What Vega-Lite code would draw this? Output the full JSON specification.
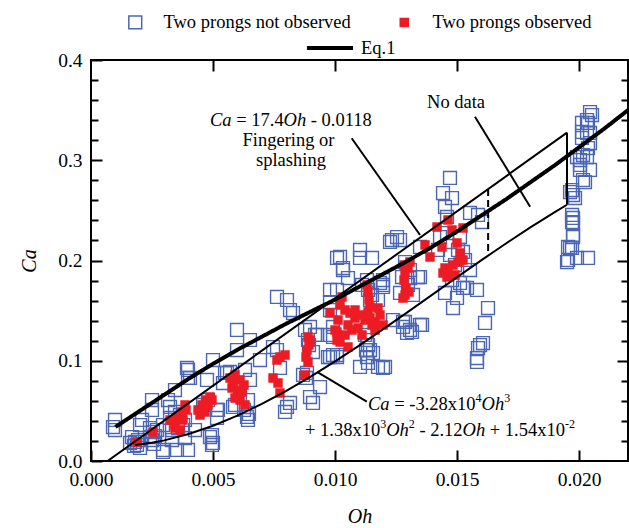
{
  "$schema": "https://vega.github.io/schema/vega-lite/v6.json",
  "autosize": {"type": "none"},
  "padding": {"left": 91, "top": 60, "right": 1, "bottom": 67},
  "width": 537,
  "height": 401,
  "background": "white",
  "config": {
    "view": {"stroke": "black", "strokeWidth": 2},
    "axis": {"domain": false, "grid": false, "tickColor": "black", "tickWidth": 2, "labelFont": "Liberation Serif", "labelFontSize": 19.5, "labelColor": "black", "labelFlush": false, "labelOverlap": false, "titleFont": "Liberation Serif", "titleFontSize": 20, "titleFontStyle": "italic", "titleFontWeight": "normal", "titleColor": "black"},
    "legend": {"labelFont": "Liberation Serif", "labelFontSize": 18.5, "labelColor": "black", "padding": 0, "labelLimit": 0}
  },
  "datasets": {
    "pts": [
      {"Oh":0.000983,"Ca":0.0409,"g":"n"},{"Oh":0.000983,"Ca":0.0309,"g":"n"},{"Oh":0.000901,"Ca":0.0339,"g":"n"},{"Oh":0.002008,"Ca":0.0359,"g":"n"},{"Oh":0.00209,"Ca":0.0409,"g":"n"},{"Oh":0.002499,"Ca":0.0608,"g":"n"},{"Oh":0.002499,"Ca":0.0509,"g":"n"},{"Oh":0.003155,"Ca":0.0608,"g":"n"},{"Oh":0.003441,"Ca":0.0708,"g":"n"},{"Oh":0.003974,"Ca":0.0908,"g":"n"},{"Oh":0.003974,"Ca":0.0828,"g":"n"},{"Oh":0.003933,"Ca":0.0928,"g":"n"},{"Oh":0.004056,"Ca":0.0828,"g":"n"},{"Oh":0.004998,"Ca":0.1007,"g":"n"},{"Oh":0.00549,"Ca":0.0878,"g":"n"},{"Oh":0.00168,"Ca":0.0239,"g":"n"},{"Oh":0.001803,"Ca":0.019,"g":"n"},{"Oh":0.001926,"Ca":0.0209,"g":"n"},{"Oh":0.001885,"Ca":0.016,"g":"n"},{"Oh":0.001762,"Ca":0.015,"g":"n"},{"Oh":0.001598,"Ca":0.018,"g":"n"},{"Oh":0.002417,"Ca":0.0329,"g":"n"},{"Oh":0.00254,"Ca":0.0289,"g":"n"},{"Oh":0.002622,"Ca":0.0249,"g":"n"},{"Oh":0.002499,"Ca":0.0209,"g":"n"},{"Oh":0.002704,"Ca":0.0309,"g":"n"},{"Oh":0.002581,"Ca":0.017,"g":"n"},{"Oh":0.002008,"Ca":0.013,"g":"n"},{"Oh":0.00295,"Ca":0.009,"g":"n"},{"Oh":0.002417,"Ca":0.0239,"g":"n"},{"Oh":0.003237,"Ca":0.0429,"g":"n"},{"Oh":0.003441,"Ca":0.0489,"g":"n"},{"Oh":0.003646,"Ca":0.0459,"g":"n"},{"Oh":0.003851,"Ca":0.0409,"g":"n"},{"Oh":0.003564,"Ca":0.0329,"g":"n"},{"Oh":0.003319,"Ca":0.0309,"g":"n"},{"Oh":0.003769,"Ca":0.0359,"g":"n"},{"Oh":0.003851,"Ca":0.0229,"g":"n"},{"Oh":0.004261,"Ca":0.0309,"g":"n"},{"Oh":0.004589,"Ca":0.0559,"g":"n"},{"Oh":0.004875,"Ca":0.0239,"g":"n"},{"Oh":0.004957,"Ca":0.016,"g":"n"},{"Oh":0.005203,"Ca":0.0509,"g":"n"},{"Oh":0.003237,"Ca":0.0539,"g":"n"},{"Oh":0.003523,"Ca":0.011,"g":"n"},{"Oh":0.00295,"Ca":0.0359,"g":"n"},{"Oh":0.003319,"Ca":0.0209,"g":"n"},{"Oh":0.00295,"Ca":0.011,"g":"n"},{"Oh":0.003974,"Ca":0.011,"g":"n"},{"Oh":0.004753,"Ca":0.0808,"g":"n"},{"Oh":0.005162,"Ca":0.0429,"g":"n"},{"Oh":0.004998,"Ca":0.018,"g":"n"},{"Oh":0.004793,"Ca":0.0608,"g":"n"},
      {"Oh":0.00803,"Ca":0.1606,"g":"n"},{"Oh":0.008276,"Ca":0.1476,"g":"n"},{"Oh":0.00762,"Ca":0.1636,"g":"n"},{"Oh":0.008153,"Ca":0.1506,"g":"n"},{"Oh":0.005982,"Ca":0.1307,"g":"n"},{"Oh":0.006514,"Ca":0.1207,"g":"n"},{"Oh":0.005982,"Ca":0.1107,"g":"n"},{"Oh":0.006924,"Ca":0.1007,"g":"n"},{"Oh":0.00762,"Ca":0.1107,"g":"n"},{"Oh":0.007743,"Ca":0.0928,"g":"n"},{"Oh":0.008972,"Ca":0.1337,"g":"n"},{"Oh":0.009259,"Ca":0.1257,"g":"n"},{"Oh":0.009095,"Ca":0.1087,"g":"n"},{"Oh":0.00885,"Ca":0.0878,"g":"n"},{"Oh":0.009382,"Ca":0.0738,"g":"n"},{"Oh":0.008972,"Ca":0.0638,"g":"n"},{"Oh":0.009095,"Ca":0.0579,"g":"n"},{"Oh":0.00803,"Ca":0.0539,"g":"n"},{"Oh":0.007948,"Ca":0.0489,"g":"n"},{"Oh":0.005572,"Ca":0.0878,"g":"n"},{"Oh":0.005408,"Ca":0.0778,"g":"n"},{"Oh":0.005162,"Ca":0.0509,"g":"n"},{"Oh":0.006391,"Ca":0.0439,"g":"n"},{"Oh":0.006473,"Ca":0.0469,"g":"n"},{"Oh":0.009792,"Ca":0.1257,"g":"n"},{"Oh":0.00971,"Ca":0.1037,"g":"n"},{"Oh":0.004957,"Ca":0.0259,"g":"n"},{"Oh":0.005695,"Ca":0.0888,"g":"n"},{"Oh":0.006309,"Ca":0.0908,"g":"n"},{"Oh":0.006514,"Ca":0.0808,"g":"n"},{"Oh":0.006105,"Ca":0.0658,"g":"n"},{"Oh":0.006432,"Ca":0.0608,"g":"n"},{"Oh":0.0059,"Ca":0.0559,"g":"n"},{"Oh":0.006268,"Ca":0.0509,"g":"n"},{"Oh":0.008768,"Ca":0.1307,"g":"n"},{"Oh":0.00889,"Ca":0.1207,"g":"n"},{"Oh":0.008686,"Ca":0.0858,"g":"n"},{"Oh":0.008809,"Ca":0.0828,"g":"n"},{"Oh":0.008931,"Ca":0.1157,"g":"n"},{"Oh":0.007457,"Ca":0.1137,"g":"n"},{"Oh":0.008153,"Ca":0.0579,"g":"n"},{"Oh":0.009915,"Ca":0.1237,"g":"n"},{"Oh":0.010079,"Ca":0.1057,"g":"n"},{"Oh":0.005818,"Ca":0.0539,"g":"n"},{"Oh":0.006432,"Ca":0.0409,"g":"n"},
      {"Oh":0.012537,"Ca":0.2234,"g":"n"},{"Oh":0.01225,"Ca":0.2185,"g":"n"},{"Oh":0.01266,"Ca":0.2204,"g":"n"},{"Oh":0.011021,"Ca":0.2105,"g":"n"},{"Oh":0.011021,"Ca":0.2025,"g":"n"},{"Oh":0.011513,"Ca":0.2025,"g":"n"},{"Oh":0.010079,"Ca":0.2025,"g":"n"},{"Oh":0.010324,"Ca":0.1925,"g":"n"},{"Oh":0.010529,"Ca":0.1825,"g":"n"},{"Oh":0.010079,"Ca":0.1706,"g":"n"},{"Oh":0.009792,"Ca":0.1586,"g":"n"},{"Oh":0.011308,"Ca":0.1805,"g":"n"},{"Oh":0.011963,"Ca":0.1756,"g":"n"},{"Oh":0.011758,"Ca":0.1606,"g":"n"},{"Oh":0.011308,"Ca":0.1207,"g":"n"},{"Oh":0.011308,"Ca":0.1037,"g":"n"},{"Oh":0.011349,"Ca":0.0978,"g":"n"},{"Oh":0.011758,"Ca":0.0938,"g":"n"},{"Oh":0.012045,"Ca":0.0938,"g":"n"},{"Oh":0.009915,"Ca":0.1057,"g":"n"},{"Oh":0.009177,"Ca":0.1257,"g":"n"},{"Oh":0.012783,"Ca":0.1337,"g":"n"},{"Oh":0.012947,"Ca":0.1277,"g":"n"},{"Oh":0.011103,"Ca":0.1756,"g":"n"},{"Oh":0.011349,"Ca":0.1706,"g":"n"},{"Oh":0.011513,"Ca":0.1656,"g":"n"},{"Oh":0.011226,"Ca":0.1257,"g":"n"},{"Oh":0.011349,"Ca":0.1157,"g":"n"},{"Oh":0.011267,"Ca":0.1107,"g":"n"},{"Oh":0.012373,"Ca":0.1406,"g":"n"},{"Oh":0.010202,"Ca":0.2035,"g":"n"},{"Oh":0.010324,"Ca":0.1905,"g":"n"},{"Oh":0.01184,"Ca":0.1776,"g":"n"},{"Oh":0.009792,"Ca":0.1706,"g":"n"},{"Oh":0.011431,"Ca":0.1606,"g":"n"},{"Oh":0.012742,"Ca":0.1835,"g":"n"},{"Oh":0.013069,"Ca":0.1825,"g":"n"},{"Oh":0.013397,"Ca":0.1835,"g":"n"},{"Oh":0.009792,"Ca":0.1506,"g":"n"},{"Oh":0.009915,"Ca":0.1337,"g":"n"},{"Oh":0.012783,"Ca":0.1387,"g":"n"},{"Oh":0.013069,"Ca":0.1307,"g":"n"},{"Oh":0.013479,"Ca":0.1357,"g":"n"},{"Oh":0.013151,"Ca":0.1287,"g":"n"},{"Oh":0.011431,"Ca":0.1107,"g":"n"},{"Oh":0.011554,"Ca":0.1077,"g":"n"},{"Oh":0.011021,"Ca":0.0938,"g":"n"},{"Oh":0.011963,"Ca":0.0928,"g":"n"},{"Oh":0.010079,"Ca":0.1037,"g":"n"},{"Oh":0.009792,"Ca":0.1037,"g":"n"},
      {"Oh":0.014421,"Ca":0.2673,"g":"n"},{"Oh":0.01479,"Ca":0.2623,"g":"n"},{"Oh":0.014503,"Ca":0.2534,"g":"n"},{"Oh":0.014585,"Ca":0.2434,"g":"n"},{"Oh":0.015528,"Ca":0.2474,"g":"n"},{"Oh":0.015855,"Ca":0.2454,"g":"n"},{"Oh":0.016019,"Ca":0.2384,"g":"n"},{"Oh":0.012332,"Ca":0.2204,"g":"n"},{"Oh":0.013479,"Ca":0.2135,"g":"n"},{"Oh":0.014299,"Ca":0.2234,"g":"n"},{"Oh":0.014585,"Ca":0.2274,"g":"n"},{"Oh":0.015118,"Ca":0.2234,"g":"n"},{"Oh":0.014217,"Ca":0.2105,"g":"n"},{"Oh":0.015036,"Ca":0.2105,"g":"n"},{"Oh":0.015241,"Ca":0.2085,"g":"n"},{"Oh":0.013479,"Ca":0.1835,"g":"n"},{"Oh":0.011963,"Ca":0.1805,"g":"n"},{"Oh":0.011963,"Ca":0.1736,"g":"n"},{"Oh":0.01266,"Ca":0.1676,"g":"n"},{"Oh":0.014503,"Ca":0.1676,"g":"n"},{"Oh":0.014995,"Ca":0.1626,"g":"n"},{"Oh":0.015241,"Ca":0.1726,"g":"n"},{"Oh":0.015814,"Ca":0.1706,"g":"n"},{"Oh":0.014831,"Ca":0.1526,"g":"n"},{"Oh":0.016265,"Ca":0.1526,"g":"n"},{"Oh":0.012865,"Ca":0.1387,"g":"n"},{"Oh":0.013561,"Ca":0.1357,"g":"n"},{"Oh":0.016142,"Ca":0.1377,"g":"n"},{"Oh":0.015937,"Ca":0.1157,"g":"n"},{"Oh":0.01606,"Ca":0.1177,"g":"n"},{"Oh":0.014708,"Ca":0.2823,"g":"n"},{"Oh":0.012865,"Ca":0.1985,"g":"n"},{"Oh":0.013069,"Ca":0.1905,"g":"n"},{"Oh":0.012987,"Ca":0.1756,"g":"n"},{"Oh":0.013192,"Ca":0.1656,"g":"n"},{"Oh":0.014708,"Ca":0.2055,"g":"n"},{"Oh":0.014913,"Ca":0.1955,"g":"n"},{"Oh":0.015323,"Ca":0.2005,"g":"n"},{"Oh":0.01479,"Ca":0.1805,"g":"n"},{"Oh":0.015118,"Ca":0.1776,"g":"n"},{"Oh":0.015528,"Ca":0.1905,"g":"n"},{"Oh":0.015855,"Ca":0.1127,"g":"n"},{"Oh":0.015814,"Ca":0.1027,"g":"n"},{"Oh":0.015814,"Ca":0.0988,"g":"n"},{"Oh":0.015405,"Ca":0.1726,"g":"n"},
      {"Oh":0.020444,"Ca":0.3481,"g":"n"},{"Oh":0.020526,"Ca":0.3451,"g":"n"},{"Oh":0.020321,"Ca":0.3401,"g":"n"},{"Oh":0.020362,"Ca":0.3372,"g":"n"},{"Oh":0.020116,"Ca":0.3372,"g":"n"},{"Oh":0.020116,"Ca":0.3282,"g":"n"},{"Oh":0.020321,"Ca":0.3272,"g":"n"},{"Oh":0.020444,"Ca":0.3272,"g":"n"},{"Oh":0.020116,"Ca":0.3222,"g":"n"},{"Oh":0.020444,"Ca":0.3172,"g":"n"},{"Oh":0.020362,"Ca":0.3122,"g":"n"},{"Oh":0.019911,"Ca":0.3032,"g":"n"},{"Oh":0.020157,"Ca":0.3052,"g":"n"},{"Oh":0.020034,"Ca":0.3002,"g":"n"},{"Oh":0.020321,"Ca":0.3032,"g":"n"},{"Oh":0.020034,"Ca":0.2953,"g":"n"},{"Oh":0.020444,"Ca":0.2903,"g":"n"},{"Oh":0.020034,"Ca":0.2903,"g":"n"},{"Oh":0.020157,"Ca":0.2803,"g":"n"},{"Oh":0.020239,"Ca":0.2783,"g":"n"},{"Oh":0.019707,"Ca":0.2703,"g":"n"},{"Oh":0.019625,"Ca":0.2683,"g":"n"},{"Oh":0.019748,"Ca":0.2653,"g":"n"},{"Oh":0.01983,"Ca":0.2623,"g":"n"},{"Oh":0.019707,"Ca":0.2454,"g":"n"},{"Oh":0.019748,"Ca":0.2424,"g":"n"},{"Oh":0.019707,"Ca":0.2384,"g":"n"},{"Oh":0.019748,"Ca":0.2374,"g":"n"},{"Oh":0.019748,"Ca":0.2254,"g":"n"},{"Oh":0.019748,"Ca":0.2234,"g":"n"},{"Oh":0.019543,"Ca":0.2135,"g":"n"},{"Oh":0.019625,"Ca":0.2125,"g":"n"},{"Oh":0.019707,"Ca":0.2125,"g":"n"},{"Oh":0.019543,"Ca":0.2005,"g":"n"},{"Oh":0.019911,"Ca":0.2025,"g":"n"},{"Oh":0.020362,"Ca":0.2025,"g":"n"},{"Oh":0.019502,"Ca":0.1985,"g":"n"},
      {"Oh":0.001885,"Ca":0.019,"g":"o"},{"Oh":0.00254,"Ca":0.0289,"g":"o"},{"Oh":0.003237,"Ca":0.0409,"g":"o"},{"Oh":0.003441,"Ca":0.0359,"g":"o"},{"Oh":0.003564,"Ca":0.0429,"g":"o"},{"Oh":0.003728,"Ca":0.0489,"g":"o"},{"Oh":0.003851,"Ca":0.0559,"g":"o"},{"Oh":0.003646,"Ca":0.0309,"g":"o"},{"Oh":0.003441,"Ca":0.0329,"g":"o"},{"Oh":0.003769,"Ca":0.0409,"g":"o"},{"Oh":0.003892,"Ca":0.0509,"g":"o"},{"Oh":0.004384,"Ca":0.0509,"g":"o"},{"Oh":0.004548,"Ca":0.0559,"g":"o"},{"Oh":0.004712,"Ca":0.0608,"g":"o"},{"Oh":0.004875,"Ca":0.0638,"g":"o"},{"Oh":0.004466,"Ca":0.0459,"g":"o"},{"Oh":0.004671,"Ca":0.0489,"g":"o"},{"Oh":0.004793,"Ca":0.0559,"g":"o"},{"Oh":0.004957,"Ca":0.0608,"g":"o"},
      {"Oh":0.005695,"Ca":0.0828,"g":"o"},{"Oh":0.0059,"Ca":0.0858,"g":"o"},{"Oh":0.006105,"Ca":0.0808,"g":"o"},{"Oh":0.005777,"Ca":0.0728,"g":"o"},{"Oh":0.006023,"Ca":0.0708,"g":"o"},{"Oh":0.006268,"Ca":0.0758,"g":"o"},{"Oh":0.0059,"Ca":0.0628,"g":"o"},{"Oh":0.006105,"Ca":0.0608,"g":"o"},{"Oh":0.006309,"Ca":0.0559,"g":"o"},{"Oh":0.006023,"Ca":0.0658,"g":"o"},{"Oh":0.006186,"Ca":0.0688,"g":"o"},{"Oh":0.005818,"Ca":0.0788,"g":"o"},{"Oh":0.007743,"Ca":0.1037,"g":"o"},{"Oh":0.007948,"Ca":0.1057,"g":"o"},{"Oh":0.00762,"Ca":0.1007,"g":"o"},{"Oh":0.007457,"Ca":0.0828,"g":"o"},{"Oh":0.007661,"Ca":0.0778,"g":"o"},{"Oh":0.007743,"Ca":0.0678,"g":"o"},{"Oh":0.00889,"Ca":0.1237,"g":"o"},{"Oh":0.008931,"Ca":0.1157,"g":"o"},{"Oh":0.00885,"Ca":0.1107,"g":"o"},{"Oh":0.008809,"Ca":0.1037,"g":"o"},{"Oh":0.00889,"Ca":0.0988,"g":"o"},{"Oh":0.008768,"Ca":0.0858,"g":"o"},{"Oh":0.008972,"Ca":0.1207,"g":"o"},
      {"Oh":0.009792,"Ca":0.1476,"g":"o"},{"Oh":0.010079,"Ca":0.1287,"g":"o"},{"Oh":0.010079,"Ca":0.1207,"g":"o"},{"Oh":0.010283,"Ca":0.1636,"g":"o"},{"Oh":0.010202,"Ca":0.1556,"g":"o"},{"Oh":0.010406,"Ca":0.1506,"g":"o"},{"Oh":0.010611,"Ca":0.1476,"g":"o"},{"Oh":0.010816,"Ca":0.1426,"g":"o"},{"Oh":0.011021,"Ca":0.1456,"g":"o"},{"Oh":0.011226,"Ca":0.1406,"g":"o"},{"Oh":0.011431,"Ca":0.1426,"g":"o"},{"Oh":0.011635,"Ca":0.1387,"g":"o"},{"Oh":0.01184,"Ca":0.1456,"g":"o"},{"Oh":0.011963,"Ca":0.1357,"g":"o"},{"Oh":0.010529,"Ca":0.1357,"g":"o"},{"Oh":0.010693,"Ca":0.1307,"g":"o"},{"Oh":0.010939,"Ca":0.1327,"g":"o"},{"Oh":0.011103,"Ca":0.1257,"g":"o"},{"Oh":0.010406,"Ca":0.1257,"g":"o"},{"Oh":0.010202,"Ca":0.1187,"g":"o"},{"Oh":0.010529,"Ca":0.1137,"g":"o"},{"Oh":0.011308,"Ca":0.1756,"g":"o"},{"Oh":0.011349,"Ca":0.1686,"g":"o"},{"Oh":0.01139,"Ca":0.1606,"g":"o"},{"Oh":0.011431,"Ca":0.1536,"g":"o"},{"Oh":0.011349,"Ca":0.1486,"g":"o"},{"Oh":0.011513,"Ca":0.1357,"g":"o"},{"Oh":0.011635,"Ca":0.1307,"g":"o"},{"Oh":0.010816,"Ca":0.1506,"g":"o"},{"Oh":0.01012,"Ca":0.1406,"g":"o"},{"Oh":0.009997,"Ca":0.1307,"g":"o"},{"Oh":0.011758,"Ca":0.1526,"g":"o"},
      {"Oh":0.012824,"Ca":0.1955,"g":"o"},{"Oh":0.012865,"Ca":0.1885,"g":"o"},{"Oh":0.012824,"Ca":0.1805,"g":"o"},{"Oh":0.012906,"Ca":0.1726,"g":"o"},{"Oh":0.012865,"Ca":0.1656,"g":"o"},{"Oh":0.012783,"Ca":0.1626,"g":"o"},{"Oh":0.012987,"Ca":0.1925,"g":"o"},{"Oh":0.013069,"Ca":0.1985,"g":"o"},{"Oh":0.013028,"Ca":0.1686,"g":"o"},
      {"Oh":0.014176,"Ca":0.2334,"g":"o"},{"Oh":0.014626,"Ca":0.2404,"g":"o"},{"Oh":0.01479,"Ca":0.2304,"g":"o"},{"Oh":0.015241,"Ca":0.2324,"g":"o"},{"Oh":0.013684,"Ca":0.2155,"g":"o"},{"Oh":0.013889,"Ca":0.2035,"g":"o"},{"Oh":0.01438,"Ca":0.2135,"g":"o"},{"Oh":0.014995,"Ca":0.2175,"g":"o"},{"Oh":0.015118,"Ca":0.2075,"g":"o"},{"Oh":0.014421,"Ca":0.1875,"g":"o"},{"Oh":0.014626,"Ca":0.1905,"g":"o"},{"Oh":0.014831,"Ca":0.1955,"g":"o"},{"Oh":0.015036,"Ca":0.1985,"g":"o"},{"Oh":0.015241,"Ca":0.2005,"g":"o"},{"Oh":0.014585,"Ca":0.1835,"g":"o"},{"Oh":0.014503,"Ca":0.1925,"g":"o"},{"Oh":0.014913,"Ca":0.1855,"g":"o"}
    ],
    "eq1": [
      {"Oh":0.001,"Ca":0.034,"s":"Eq.1"},{"Oh":0.0015,"Ca":0.042,"s":"Eq.1"},{"Oh":0.002,"Ca":0.05,"s":"Eq.1"},{"Oh":0.003,"Ca":0.066,"s":"Eq.1"},{"Oh":0.004,"Ca":0.082,"s":"Eq.1"},{"Oh":0.005,"Ca":0.097,"s":"Eq.1"},{"Oh":0.006,"Ca":0.111,"s":"Eq.1"},{"Oh":0.007,"Ca":0.124,"s":"Eq.1"},{"Oh":0.008,"Ca":0.137,"s":"Eq.1"},{"Oh":0.009,"Ca":0.149,"s":"Eq.1"},{"Oh":0.01,"Ca":0.161,"s":"Eq.1"},{"Oh":0.011,"Ca":0.174,"s":"Eq.1"},{"Oh":0.012,"Ca":0.187,"s":"Eq.1"},{"Oh":0.013,"Ca":0.2,"s":"Eq.1"},{"Oh":0.014,"Ca":0.214,"s":"Eq.1"},{"Oh":0.015,"Ca":0.229,"s":"Eq.1"},{"Oh":0.016,"Ca":0.245,"s":"Eq.1"},{"Oh":0.017,"Ca":0.261,"s":"Eq.1"},{"Oh":0.018,"Ca":0.278,"s":"Eq.1"},{"Oh":0.019,"Ca":0.295,"s":"Eq.1"},{"Oh":0.02,"Ca":0.313,"s":"Eq.1"},{"Oh":0.021,"Ca":0.331,"s":"Eq.1"},{"Oh":0.022,"Ca":0.35,"s":"Eq.1"}
    ],
    "guides": [
      {"seg":"s1","ord":1,"Oh":0.000678,"Ca":0},{"seg":"s1","ord":2,"Oh":0.0195,"Ca":0.3275},
      {"seg":"s2","ord":1,"Oh":0.0195,"Ca":0.3275},{"seg":"s2","ord":2,"Oh":0.0195,"Ca":0.2556},
      {"seg":"s3","ord":1,"Oh":0.0018,"Ca":0.01586},{"seg":"s3","ord":2,"Oh":0.0025,"Ca":0.01821},{"seg":"s3","ord":3,"Oh":0.003,"Ca":0.02057},{"seg":"s3","ord":4,"Oh":0.004,"Ca":0.0269},{"seg":"s3","ord":5,"Oh":0.005,"Ca":0.0352},{"seg":"s3","ord":6,"Oh":0.006,"Ca":0.04528},{"seg":"s3","ord":7,"Oh":0.007,"Ca":0.05693},{"seg":"s3","ord":8,"Oh":0.008,"Ca":0.06997},{"seg":"s3","ord":9,"Oh":0.009,"Ca":0.08419},{"seg":"s3","ord":10,"Oh":0.01,"Ca":0.0994},{"seg":"s3","ord":11,"Oh":0.011,"Ca":0.1154},{"seg":"s3","ord":12,"Oh":0.012,"Ca":0.132},{"seg":"s3","ord":13,"Oh":0.013,"Ca":0.149},{"seg":"s3","ord":14,"Oh":0.014,"Ca":0.1662},{"seg":"s3","ord":15,"Oh":0.015,"Ca":0.1834},{"seg":"s3","ord":16,"Oh":0.016,"Ca":0.2004},{"seg":"s3","ord":17,"Oh":0.017,"Ca":0.217},{"seg":"s3","ord":18,"Oh":0.018,"Ca":0.2331},{"seg":"s3","ord":19,"Oh":0.019,"Ca":0.2483},{"seg":"s3","ord":20,"Oh":0.0195,"Ca":0.2556},
      {"seg":"s4","ord":1,"Oh":0.01068,"Ca":0.3219},{"seg":"s4","ord":2,"Oh":0.01348,"Ca":0.2254},
      {"seg":"s5","ord":1,"Oh":0.01573,"Ca":0.3434},{"seg":"s5","ord":2,"Oh":0.01799,"Ca":0.2537},
      {"seg":"s6","ord":1,"Oh":0.00926,"Ca":0.0888},{"seg":"s6","ord":2,"Oh":0.0113,"Ca":0.0592}
    ],
    "dash": [{"Oh":0.01627,"Ca":0.2713},{"Oh":0.01627,"Ca":0.2049}],
    "tnorm": [
      {"t":"= 17.4","Oh":0.005949,"Ca":0.33416},{"t":"- 0.0118","Oh":0.009005,"Ca":0.33416},{"t":"Fingering or","Oh":0.006207,"Ca":0.31421},{"t":"splashing","Oh":0.00676,"Ca":0.29426},{"t":"No data","Oh":0.013766,"Ca":0.35212},{"t":"= -3.28x10","Oh":0.012422,"Ca":0.05087},{"t":"+ 1.38x10","Oh":0.008767,"Ca":0.02494},{"t":"- 2.12","Oh":0.013454,"Ca":0.02494},{"t":"+ 1.54x10","Oh":0.016338,"Ca":0.02494}
    ],
    "tital": [
      {"t":"Ca","Oh":0.004875,"Ca":0.33416},{"t":"Oh","Oh":0.007891,"Ca":0.33416},{"t":"Ca","Oh":0.011348,"Ca":0.05087},{"t":"Oh","Oh":0.016003,"Ca":0.05087},{"t":"Oh","Oh":0.012094,"Ca":0.02494},{"t":"Oh","Oh":0.015224,"Ca":0.02494}
    ],
    "tsup": [
      {"t":"4","Oh":0.015757,"Ca":0.05885},{"t":"3","Oh":0.016928,"Ca":0.05885},{"t":"3","Oh":0.011848,"Ca":0.03292},{"t":"2","Oh":0.01302,"Ca":0.03292},{"t":"-2","Oh":0.019419,"Ca":0.03292}
    ]
  },
  "resolve": {"axis": {"x": "independent", "y": "independent"}},
  "layer": [
    {
      "data": {"name": "pts"},
      "mark": {"type": "point", "shape": "square", "strokeWidth": 1.4, "opacity": 1},
      "encoding": {
        "x": {"field": "Oh", "type": "quantitative", "scale": {"domain": [0, 0.022], "nice": false, "zero": false},
              "axis": {"orient": "bottom", "values": [0, 0.005, 0.01, 0.015, 0.02], "format": ".3f", "tickSize": -11, "labelPadding": 20, "title": "Oh", "titlePadding": 18}},
        "y": {"field": "Ca", "type": "quantitative", "scale": {"domain": [0, 0.4], "nice": false},
              "axis": {"orient": "left", "values": [0, 0.1, 0.2, 0.3, 0.4], "format": ".1f", "tickSize": -11, "labelPadding": 20, "title": "Ca", "titlePadding": 18}},
        "fill": {"field": "g", "type": "nominal", "scale": {"domain": ["n", "o"], "range": ["transparent", "#ed1c24"]},
                 "legend": {"title": null, "orient": "none", "legendX": 35, "legendY": -47, "direction": "horizontal", "columnPadding": 44, "labelOffset": 19, "symbolStrokeWidth": 1.5, "labelExpr": "datum.label == 'n' ? 'Two prongs not observed' : 'Two prongs observed'"}},
        "stroke": {"field": "g", "type": "nominal", "scale": {"domain": ["n", "o"], "range": ["#4a66b5", "#ed1c24"]},
                 "legend": {"title": null, "orient": "none", "legendX": 35, "legendY": -47, "direction": "horizontal", "columnPadding": 44, "labelOffset": 19, "symbolStrokeWidth": 1.5, "labelExpr": "datum.label == 'n' ? 'Two prongs not observed' : 'Two prongs observed'"}},
        "size": {"field": "g", "type": "nominal", "scale": {"domain": ["n", "o"], "range": [165, 64]},
                 "legend": {"title": null, "orient": "none", "legendX": 35, "legendY": -47, "direction": "horizontal", "columnPadding": 44, "labelOffset": 19, "symbolStrokeWidth": 1.5, "labelExpr": "datum.label == 'n' ? 'Two prongs not observed' : 'Two prongs observed'"}}
      }
    },
    {
      "data": {"name": "eq1"},
      "mark": {"type": "line", "color": "black", "strokeWidth": 4, "clip": true},
      "encoding": {
        "x": {"field": "Oh", "type": "quantitative", "scale": {"domain": [0, 0.022], "nice": false, "zero": false},
              "axis": {"orient": "top", "values": [0.005, 0.01, 0.015, 0.02], "labels": false, "tickSize": -11, "title": null}},
        "y": {"field": "Ca", "type": "quantitative", "scale": {"domain": [0, 0.4], "nice": false},
              "axis": {"orient": "left", "values": [0.02, 0.04, 0.06, 0.08, 0.12, 0.14, 0.16, 0.18, 0.22, 0.24, 0.26, 0.28, 0.32, 0.34, 0.36, 0.38], "labels": false, "tickSize": -7, "title": null}},
        "strokeDash": {"field": "s", "type": "nominal", "scale": {"domain": ["Eq.1"], "range": [[1, 0]]},
                       "legend": {"title": null, "orient": "none", "legendX": 214, "legendY": -37, "symbolType": "stroke", "symbolStrokeWidth": 4, "symbolStrokeColor": "black", "symbolSize": 2116, "labelOffset": 6}}
      }
    },
    {
      "data": {"name": "guides"},
      "mark": {"type": "line", "color": "black", "strokeWidth": 2, "clip": true},
      "encoding": {
        "x": {"field": "Oh", "type": "quantitative", "axis": null},
        "y": {"field": "Ca", "type": "quantitative",
              "axis": {"orient": "right", "values": [0.1, 0.2, 0.3], "labels": false, "tickSize": -11, "title": null}},
        "detail": {"field": "seg", "type": "nominal"},
        "order": {"field": "ord", "type": "quantitative"}
      }
    },
    {
      "data": {"name": "dash"},
      "mark": {"type": "line", "color": "black", "strokeWidth": 2, "strokeDash": [7, 4]},
      "encoding": {
        "x": {"field": "Oh", "type": "quantitative", "axis": null},
        "y": {"field": "Ca", "type": "quantitative",
              "axis": {"orient": "right", "values": [0.02, 0.04, 0.06, 0.08, 0.12, 0.14, 0.16, 0.18, 0.22, 0.24, 0.26, 0.28, 0.32, 0.34, 0.36, 0.38], "labels": false, "tickSize": -7, "title": null}}
      }
    },
    {
      "data": {"name": "tnorm"},
      "mark": {"type": "text", "align": "left", "baseline": "alphabetic", "font": "Liberation Serif", "fontSize": 18.5, "color": "black"},
      "encoding": {
        "x": {"field": "Oh", "type": "quantitative", "axis": null},
        "y": {"field": "Ca", "type": "quantitative", "axis": null},
        "text": {"field": "t"}
      }
    },
    {
      "data": {"name": "tital"},
      "mark": {"type": "text", "align": "left", "baseline": "alphabetic", "font": "Liberation Serif", "fontSize": 18.5, "fontStyle": "italic", "color": "black"},
      "encoding": {
        "x": {"field": "Oh", "type": "quantitative", "axis": null},
        "y": {"field": "Ca", "type": "quantitative", "axis": null},
        "text": {"field": "t"}
      }
    },
    {
      "data": {"name": "tsup"},
      "mark": {"type": "text", "align": "left", "baseline": "alphabetic", "font": "Liberation Serif", "fontSize": 12, "color": "black"},
      "encoding": {
        "x": {"field": "Oh", "type": "quantitative", "axis": null},
        "y": {"field": "Ca", "type": "quantitative", "axis": null},
        "text": {"field": "t"}
      }
    }
  ]
}
